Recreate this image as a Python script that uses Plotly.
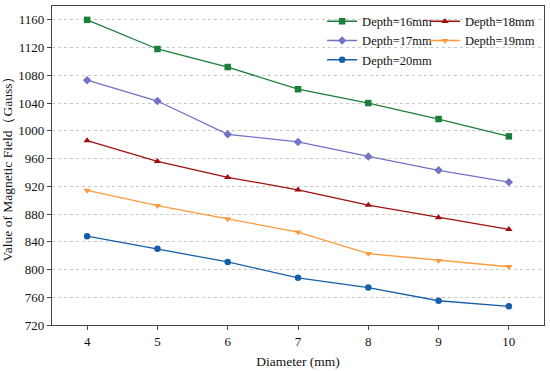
import plotly.graph_objects as go

diameter = [4, 5, 6, 7, 8, 9, 10]
depth16 = [1160, 1118, 1092, 1060, 1040, 1017, 992]
depth17 = [1073, 1043, 995, 984, 963, 943, 926]
depth18 = [986, 956, 933, 915, 893, 875, 858]
depth19 = [914, 892, 873, 854, 823, 813, 804]
depth20 = [848, 830, 811, 788, 774, 755, 747]
y_ticks = list(range(720, 1161, 40))

series = [
    ("Depth=16mm", depth16, "#1b7f3b", "square", "legend"),
    ("Depth=17mm", depth17, "#7272c6", "diamond", "legend"),
    ("Depth=18mm", depth18, "#a20f0f", "triangle-up", "legend2"),
    ("Depth=19mm", depth19, "#ff9a3c", "triangle-down", "legend2"),
    ("Depth=20mm", depth20, "#165fa8", "circle", "legend"),
]

fig = go.Figure()
for name, vals, color, sym, lg in series:
    fig.add_trace(go.Scatter(
        x=diameter, y=vals, name=name, mode="lines+markers",
        line=dict(color=color, width=1.3),
        marker=dict(symbol=sym, size=6.5, color=color),
        legend=lg,
    ))

font = "Liberation Serif, Times New Roman, serif"
leg_common = dict(orientation="v", yanchor="top", xanchor="left",
                  bgcolor="rgba(0,0,0,0)", font=dict(size=12.5, family=font, color="#111"),
                  tracegroupgap=0, itemwidth=30, borderwidth=0)
fig.update_layout(
    width=550, height=371,
    margin=dict(l=51, r=5, t=5, b=42),
    paper_bgcolor="white", plot_bgcolor="white",
    font=dict(family=font, size=12, color="#111"),
    legend=dict(x=0.549, y=0.998, **leg_common),
    legend2=dict(x=0.758, y=0.998, **leg_common),
    showlegend=True,
)
fig.update_xaxes(
    range=[3.5, 10.5], tickvals=diameter, ticks="outside", ticklen=4,
    showgrid=False, zeroline=False, showline=True, linecolor="#444", linewidth=1.2,
    mirror=True, title=dict(text="Diameter (mm)", font=dict(size=13.5), standoff=8),
    tickfont=dict(size=13),
)
fig.update_yaxes(
    range=[720, 1180], tickvals=y_ticks, ticks="outside", ticklen=4,
    showgrid=True, gridcolor="#c8c8c8", griddash="dot", gridwidth=1,
    zeroline=False, showline=True, linecolor="#444", linewidth=1.2, mirror=True,
    title=dict(text="Value of Magnetic Field（Gauss）", font=dict(size=13.5), standoff=4),
    tickfont=dict(size=13),
)
fig.write_html("out.html", config={"displayModeBar": False},
               post_script="document.body.style.margin='0';document.body.style.overflow='hidden';")
